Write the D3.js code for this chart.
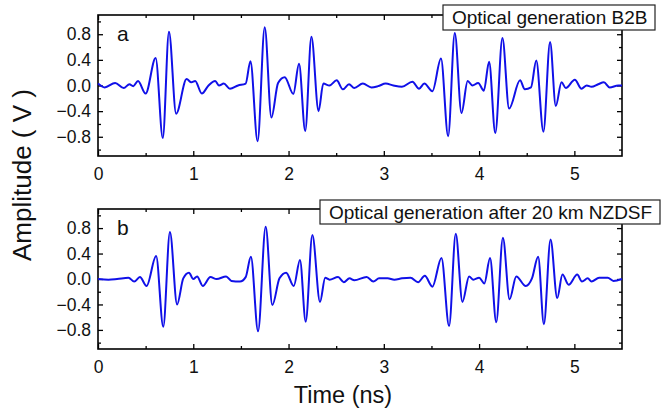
<!DOCTYPE html>
<html>
<head>
<meta charset="utf-8">
<script src="https://cdn.jsdelivr.net/npm/d3@7"></script>
<style>
  body { margin: 0; background: #fff; }
  svg { display: block; font-family: "Liberation Sans", Arial, sans-serif; }
</style>
</head>
<body>
<svg id="chart" width="663" height="408"></svg>
<script>
// panel a: optical generation B2B (time in ns, amplitude in V)
let timeA = [0, 0.07, 0.18, 0.27, 0.33, 0.37, 0.42, 0.50, 0.605, 0.68, 0.745, 0.82,
    0.93, 0.98, 1.02, 1.09, 1.16, 1.23, 1.27, 1.32, 1.385, 1.47, 1.55,
    1.60, 1.675, 1.75, 1.82, 1.89, 1.96, 2.05, 2.11, 2.175, 2.24, 2.315,
    2.365, 2.43, 2.505, 2.57, 2.635, 2.69, 2.78, 2.87, 2.94, 3.02, 3.10, 3.19, 3.30, 3.37, 3.425, 3.51,
    3.60, 3.675, 3.745, 3.815, 3.88, 3.93, 3.99, 4.05, 4.105, 4.17, 4.245, 4.315,
    4.43, 4.48, 4.545, 4.60, 4.675, 4.745, 4.805,
    4.865, 4.91, 5.005, 5.075, 5.13, 5.18, 5.25, 5.31, 5.37, 5.46, 5.5];
let ampA = [0.03, -0.03, 0.04, -0.04, 0.02, -0.01, 0.07, -0.125, 0.43, -0.82, 0.84, -0.44,
    0.10, 0.05, 0.07, -0.125, 0.0, 0.07, 0.0, 0.03, -0.05, 0.0, 0.03,
    0.38, -0.87, 0.91, -0.50, 0.04, 0.13, -0.13, 0.34, -0.71, 0.76, -0.40,
    0.03, 0.0, 0.08, -0.06, 0.02, -0.04, 0.03, -0.03, -0.01, 0.03, 0.0, -0.02, 0.06, -0.05, 0.03, -0.09,
    0.42, -0.79, 0.82, -0.43, 0.07, 0.0, 0.04, -0.08, 0.37, -0.74, 0.74, -0.36,
    0.08, -0.06, -0.03, 0.39, -0.72, 0.68, -0.32,
    0.05, -0.04, 0.09, -0.05, 0.0, -0.02, 0.02, 0.05, -0.03, 0.0, 0.0];

// panel b: after 20 km NZDSF
let timeB = [0, 0.11, 0.2, 0.32, 0.38, 0.44, 0.51, 0.61, 0.685, 0.755, 0.83,
    0.895, 0.955, 1.0, 1.04, 1.10, 1.18, 1.245, 1.345, 1.40, 1.49, 1.55,
    1.605, 1.68, 1.76, 1.83, 1.905, 1.975, 2.055, 2.12, 2.18, 2.25, 2.33,
    2.385, 2.43, 2.52, 2.58, 2.64, 2.69, 2.82, 2.89, 2.95, 3.04, 3.11, 3.19, 3.28, 3.36, 3.43, 3.51,
    3.605, 3.685, 3.755, 3.825, 3.895, 3.94, 4.0, 4.055, 4.115, 4.18, 4.25, 4.32,
    4.39, 4.49, 4.555, 4.62, 4.68, 4.75, 4.82,
    4.875, 4.94, 5.03, 5.08, 5.14, 5.18, 5.26, 5.35, 5.41, 5.5];
let ampB = [0, -0.01, 0, 0.02, -0.04, 0.03, -0.11, 0.36, -0.75, 0.74, -0.40,
    0.01, 0.10, 0.0, 0.04, -0.11, 0.03, 0.0, 0.04, -0.03, -0.04, 0.03,
    0.35, -0.82, 0.82, -0.41, 0.01, 0.10, -0.11, 0.30, -0.67, 0.69, -0.36,
    0.02, -0.01, 0.03, -0.05, 0.01, -0.02, 0.03, -0.04, 0.01, 0.01, -0.01, 0.01, 0.02, -0.05, 0.05, -0.12,
    0.33, -0.74, 0.71, -0.36, 0.04, -0.01, 0.02, -0.07, 0.33, -0.68, 0.65, -0.32,
    0.04, -0.11, 0.01, 0.35, -0.71, 0.62, -0.30,
    0.07, -0.09, 0.07, -0.04, 0.01, -0.04, 0.02, 0.02, -0.03, 0.0];

let xMajor = [0, 1, 2, 3, 4, 5];
let xMinor = [0.5, 1.5, 2.5, 3.5, 4.5];
let yMajor = [-0.8, -0.4, 0.0, 0.4, 0.8];
let yMinor = [-1.0, -0.6, -0.2, 0.2, 0.6, 1.0];

let panels = [
    {letter: "a", legend: "Optical generation B2B", t: timeA, v: ampA,
     top: 15, bottom: 156, box: [443, 5, 212, 25]},
    {letter: "b", legend: "Optical generation after 20 km NZDSF", t: timeB, v: ampB,
     top: 209, bottom: 349, box: [320, 200, 340, 24]}
];

let svg = d3.select("#chart");
let left = 98, right = 622;

let x = d3.scaleLinear().domain([0, 5.5]).range([left, right]);

panels.forEach(function (p) {
    let y = d3.scaleLinear().domain([-1.1, 1.1]).range([p.bottom, p.top]);
    let g = svg.append("g");

    // ticks on all four sides, pointing inward
    function ticks(axis, values, size, label, transform) {
        let a = g.append("g")
            .attr("transform", transform)
            .call(axis.tickValues(values).tickSizeInner(-size).tickSizeOuter(0)
                .tickPadding(7).tickFormat(label ? d3.format(".1f") : ""));
        a.select(".domain").remove();
        a.selectAll("line").attr("stroke", "#000").attr("stroke-width", 1.3);
        a.selectAll("text").attr("font-size", 17.5).attr("fill", "#111");
        return a;
    }
    ticks(d3.axisLeft(y), yMajor, 5, true, "translate(" + left + ",0)");
    ticks(d3.axisLeft(y), yMinor, 3, false, "translate(" + left + ",0)");
    ticks(d3.axisRight(y), yMajor, 5, false, "translate(" + right + ",0)");
    ticks(d3.axisRight(y), yMinor, 3, false, "translate(" + right + ",0)");
    let xb = ticks(d3.axisBottom(x), xMajor, 5, true, "translate(0," + p.bottom + ")");
    xb.selectAll("text").text(function (d) { return d; }).attr("dy", "0.95em");
    ticks(d3.axisBottom(x), xMinor, 3, false, "translate(0," + p.bottom + ")");
    ticks(d3.axisTop(x), xMajor, 5, false, "translate(0," + p.top + ")");
    ticks(d3.axisTop(x), xMinor, 3, false, "translate(0," + p.top + ")");

    g.append("rect")
        .attr("x", left)
        .attr("y", p.top)
        .attr("width", right - left)
        .attr("height", p.bottom - p.top)
        .attr("fill", "none")
        .attr("stroke", "#000")
        .attr("stroke-width", 1.6);

    let line = d3.line()
        .x(function (d) { return x(d[0]); })
        .y(function (d) { return y(d[1]); })
        .curve(d3.curveMonotoneX);

    g.append("path")
        .datum(p.t.map(function (t, i) { return [t, p.v[i]]; }))
        .attr("d", line)
        .attr("fill", "none")
        .attr("stroke", "#1010e8")
        .attr("stroke-width", 2);

    g.append("text")
        .attr("x", 117)
        .attr("y", p.top + 26)
        .attr("font-size", 21)
        .attr("fill", "#111")
        .text(p.letter);

    // legend box
    g.append("rect")
        .attr("x", p.box[0])
        .attr("y", p.box[1])
        .attr("width", p.box[2])
        .attr("height", p.box[3])
        .attr("fill", "#fff")
        .attr("stroke", "#222")
        .attr("stroke-width", 1.2);
    g.append("text")
        .attr("x", p.box[0] + 9)
        .attr("y", p.box[1] + 19)
        .attr("font-size", 19)
        .attr("fill", "#111")
        .text(p.legend);
});

svg.append("text")
    .attr("transform", "translate(31,175) rotate(-90)")
    .attr("text-anchor", "middle")
    .attr("font-size", 26)
    .attr("fill", "#111")
    .text("Amplitude ( V )");

svg.append("text")
    .attr("x", 343)
    .attr("y", 403)
    .attr("text-anchor", "middle")
    .attr("font-size", 23.5)
    .attr("fill", "#111")
    .text("Time (ns)");
</script>
</body>
</html>
